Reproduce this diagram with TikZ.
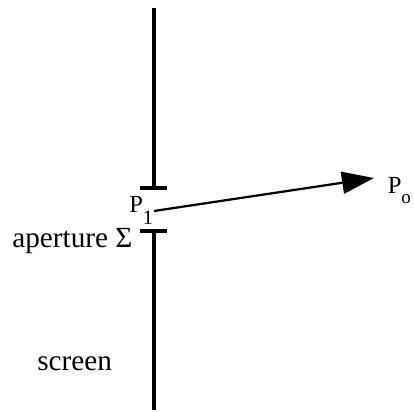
\documentclass[tikz,border=0pt]{standalone}
\usepackage{fontspec}
\setmainfont{Liberation Serif}
\usetikzlibrary{arrows.meta}

\begin{document}
\begin{tikzpicture}[
    x=0.025cm, y=-0.025cm,
    wall/.style={line width=2.6pt},
    ray/.style={-{Triangle[length=0.8cm, width=0.55cm]}, line width=1.6pt},
    txt/.style={anchor=base west, inner sep=0pt,
                font=\fontsize{20.8}{24}\selectfont},
    lbl/.style={anchor=base west, inner sep=0pt,
                font=\fontsize{17.5}{20}\selectfont}
  ]

  \useasboundingbox (0,0) rectangle (414,412);

  % screen, broken by the aperture
  \draw[wall] (154,8) -- (154,188);
  \draw[wall] (140,188) -- (167,188);
  \draw[wall] (140,231) -- (167,231);
  \draw[wall] (154,231) -- (154,410);

  \node[txt] (apt) at (12,248) {aperture Σ};
  \node[txt] (scr) at (37,370) {screen};

  \node[lbl] (p1) at (129,213) {P\raisebox{-0.275cm}{\fontsize{14.5}{14}\selectfont 1}};
  \node[lbl] (po) at (387.5,193.3) {P\raisebox{-0.26cm}{\fontsize{13.5}{13}\selectfont o}};

  \coordinate (src) at (154,211);
  \coordinate (dst) at (374,178);
  \draw[ray] (src) -- (dst);

\end{tikzpicture}
\end{document}
